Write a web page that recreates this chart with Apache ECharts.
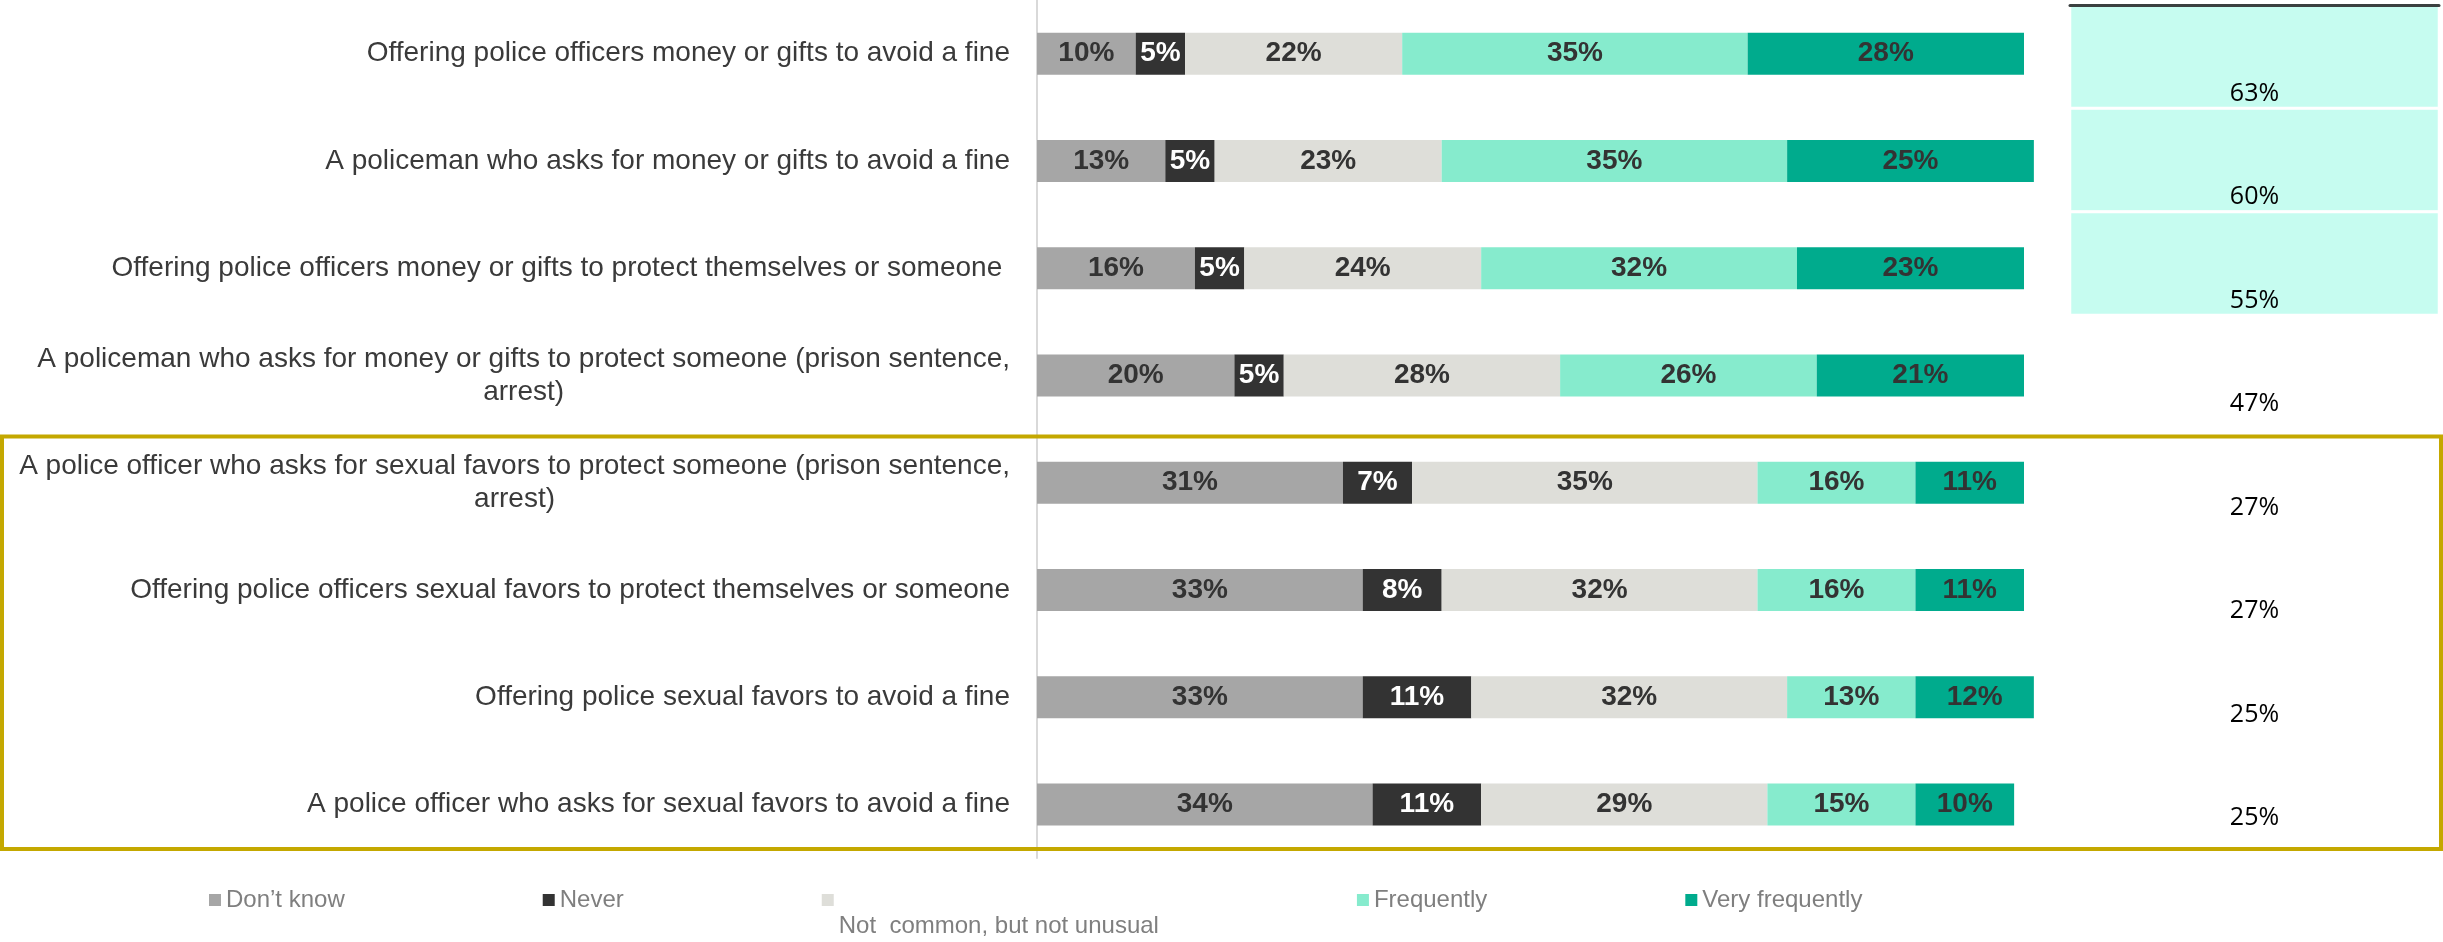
<!DOCTYPE html>
<html>
<head>
<meta charset="utf-8">
<script src="https://cdn.jsdelivr.net/npm/echarts@6/dist/echarts.min.js"></script>
<style>
  html, body { margin: 0; padding: 0; background: #ffffff; }
  #chart { width: 2443px; height: 942px; }
</style>
</head>
<body>
<div id="chart"></div>
<script>
// Survey statements (one row each, top to bottom)
const categories = [
  'Offering police officers money or gifts to avoid a fine',
  'A policeman who asks for money or gifts to avoid a fine',
  'Offering police officers money or gifts to protect themselves or someone ',
  'A policeman who asks for money or gifts to protect someone (prison sentence,\narrest)',
  'A police officer who asks for sexual favors to protect someone (prison sentence,\narrest)',
  'Offering police officers sexual favors to protect themselves or someone',
  'Offering police sexual favors to avoid a fine',
  'A police officer who asks for sexual favors to avoid a fine'
];

// Share of answers (%) per statement
const dontKnow       = [10, 13, 16, 20, 31, 33, 33, 34];
const never          = [5, 5, 5, 5, 7, 8, 11, 11];
const notCommon      = [22, 23, 24, 28, 35, 32, 32, 29];
const frequently     = [35, 35, 32, 26, 16, 16, 13, 15];
const veryFrequently = [28, 25, 23, 21, 11, 11, 12, 10];

// "Frequently" + "Very frequently" column
const combinedName = 'Frequently + Very frequently';
const combined = [63, 60, 55, 47, 27, 27, 25, 25];

const answerNames = ['Don’t know', 'Never', 'Not  common, but not unusual', 'Frequently', 'Very frequently'];
const answerData = [dontKnow, never, notCommon, frequently, veryFrequently];
const answerColors = ['#A6A6A6', '#333333', '#DEDED9', '#86EBCD', '#00AB8D'];
const labelColors = ['#333333', '#FFFFFF', '#333333', '#333333', '#333333'];

const SANS = '"Liberation Sans", Arial, sans-serif';

const chart = echarts.init(document.getElementById('chart'), null, { renderer: 'canvas' });

const barSeries = answerNames.map((name, k) => ({
  name: name,
  type: 'bar',
  stack: 'answers',
  xAxisIndex: 0,
  yAxisIndex: 0,
  barWidth: 42,
  clip: false,
  data: answerData[k],
  itemStyle: { color: answerColors[k] },
  label: {
    show: true,
    position: 'inside',
    formatter: p => p.value + '%',
    color: labelColors[k],
    fontFamily: SANS,
    fontWeight: 'bold',
    fontSize: 28
  },
  emphasis: { disabled: true }
}));

const option = {
  backgroundColor: '#ffffff',
  animation: false,
  grid: [
    { left: 1037, top: 0, width: 987, height: 858, containLabel: false },
    { left: 2070, top: 5, width: 369, height: 828, containLabel: false }
  ],
  xAxis: [
    { type: 'value', gridIndex: 0, min: 0, max: 100, show: false },
    {
      type: 'category', gridIndex: 1, data: [combinedName], position: 'top', z: 5,
      axisLine: { show: true, lineStyle: { color: '#3B4040', width: 3 } },
      axisTick: { show: false }, axisLabel: { show: false }, splitLine: { show: false }
    }
  ],
  yAxis: [
    {
      type: 'category', gridIndex: 0, data: categories, inverse: true,
      axisLine: { show: true, lineStyle: { color: '#D9D9D9', width: 2 } },
      axisTick: { show: false },
      splitLine: { show: false },
      axisLabel: {
        margin: 27,
        color: '#3A3A3A',
        fontFamily: SANS,
        fontSize: 28,
        lineHeight: 33,
        // wrapped continuation lines are centred under the first line
        formatter: v => v.split('\n').map((line, i) => i === 0 ? line : '{wrap|' + line + '}').join('\n'),
        rich: {
          wrap: { align: 'center', color: '#3A3A3A', fontFamily: SANS, fontSize: 28, lineHeight: 33 }
        }
      }
    },
    { type: 'category', gridIndex: 1, data: categories, inverse: true, show: false }
  ],
  visualMap: {
    type: 'piecewise',
    show: false,
    seriesIndex: answerNames.length,
    dimension: 2,
    pieces: [
      { gte: 50, color: '#C6FCF0' },
      { lt: 50, color: 'rgba(255,255,255,0)' }
    ]
  },
  legend: {
    left: 209,
    top: 847,
    padding: 0,
    icon: 'rect',
    itemWidth: 12,
    itemHeight: 12,
    itemGap: 198,
    selectedMode: false,
    textStyle: { color: '#7F7F7F', fontFamily: SANS, fontSize: 24, lineHeight: 53 },
    // the long answer label sits on a second line below its swatch
    formatter: name => name === answerNames[2] ? '\n' + name : name,
    data: answerNames
  },
  series: barSeries.concat([{
    name: combinedName,
    type: 'heatmap',
    xAxisIndex: 1,
    yAxisIndex: 1,
    data: combined.map((v, i) => [0, i, v]),
    itemStyle: { borderColor: '#ffffff', borderWidth: 3 },
    label: {
      show: true,
      formatter: p => p.value[2] + '%',
      color: '#000000',
      fontFamily: '"Open Sans", "Noto Sans", sans-serif',
      fontSize: 25,
      offset: [0, 37]
    },
    emphasis: { disabled: true }
  }]),
  graphic: [{
    type: 'rect',
    z: 100,
    silent: true,
    shape: { x: 2, y: 436.5, width: 2439, height: 412.5 },
    style: { fill: 'none', stroke: '#C4A800', lineWidth: 4 }
  }]
};

chart.setOption(option);
</script>
</body>
</html>
